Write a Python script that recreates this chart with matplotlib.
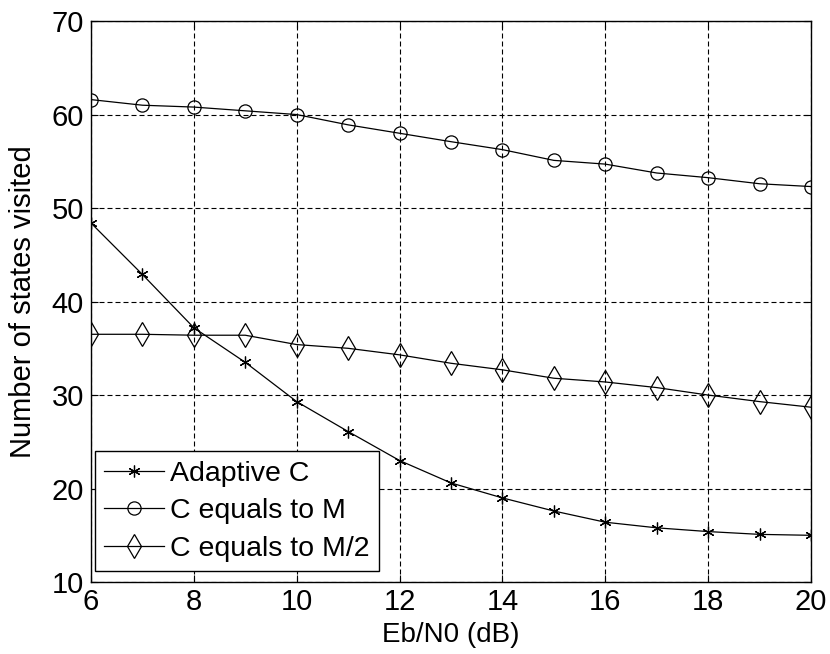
import matplotlib
matplotlib.use("Agg")
import matplotlib.pyplot as plt

# Eb/N0 grid and the three curves
ebn0 = [6, 7, 8, 9, 10, 11, 12, 13, 14, 15, 16, 17, 18, 19, 20]
adaptive_c = [48.4, 42.9, 37.2, 33.5, 29.3, 26.1, 23.0, 20.6, 19.0, 17.6, 16.4, 15.8, 15.4, 15.1, 15.0]
c_eq_m = [61.6, 61.0, 60.8, 60.4, 60.0, 58.9, 58.0, 57.1, 56.25, 55.1, 54.7, 53.75, 53.25, 52.6, 52.3]
c_eq_m2 = [36.5, 36.5, 36.4, 36.4, 35.4, 35.0, 34.3, 33.4, 32.7, 31.8, 31.4, 30.8, 30.0, 29.3, 28.7]
labels = ["Adaptive C", "C equals to M", "C equals to M/2"]
xticks = [6, 8, 10, 12, 14, 16, 18, 20]
yticks = [10, 20, 30, 40, 50, 60, 70]

plt.rcParams["font.family"] = ["Liberation Sans", "DejaVu Sans"]

fig = plt.figure(figsize=(8.3, 6.54), dpi=100)
ax = fig.add_axes([0.1096, 0.110, 0.8675, 0.8578])

kw = dict(color="black", lw=0.9, mfc="none", mec="black", mew=0.9)
ax.plot(ebn0, adaptive_c, marker=(6, 2, 0), ms=8.5, label=labels[0], **kw)
ax.plot(ebn0, c_eq_m, marker="o", ms=9.5, label=labels[1], **kw)
ax.plot(ebn0, c_eq_m2, marker="d", ms=12, label=labels[2], **kw)

ax.set_xlim(6, 20); ax.set_ylim(10, 70)
ax.set_xticks(xticks); ax.set_yticks(yticks)
ax.grid(True, color="black", ls=(0, (4.5, 2.7)), lw=0.8)
ax.tick_params(direction="in", labelsize=21, length=5, width=0.8, top=True, right=True)
ax.tick_params(axis="x", pad=4)
ax.tick_params(axis="y", pad=5)
for s in ax.spines.values():
    s.set_linewidth(1.0)
ax.set_xlabel("Eb/N0 (dB)", fontsize=20)
ax.set_ylabel("Number of states visited", fontsize=21)
ax.xaxis.set_label_coords(0.5, -0.0945)
ax.yaxis.set_label_coords(-0.0947, 0.5)
ax.xaxis.label.set_va("center")
ax.yaxis.label.set_va("center")

leg = ax.legend(loc="lower left", bbox_to_anchor=(0.0055, 0.0196), borderaxespad=0,
                fontsize=20.5, frameon=True, fancybox=False, edgecolor="black", framealpha=1,
                handlelength=2.1, handletextpad=0.22, labelspacing=0.4, borderpad=0.33)
leg.get_frame().set_linewidth(1.0)

fig.savefig("out.png", dpi=100)
